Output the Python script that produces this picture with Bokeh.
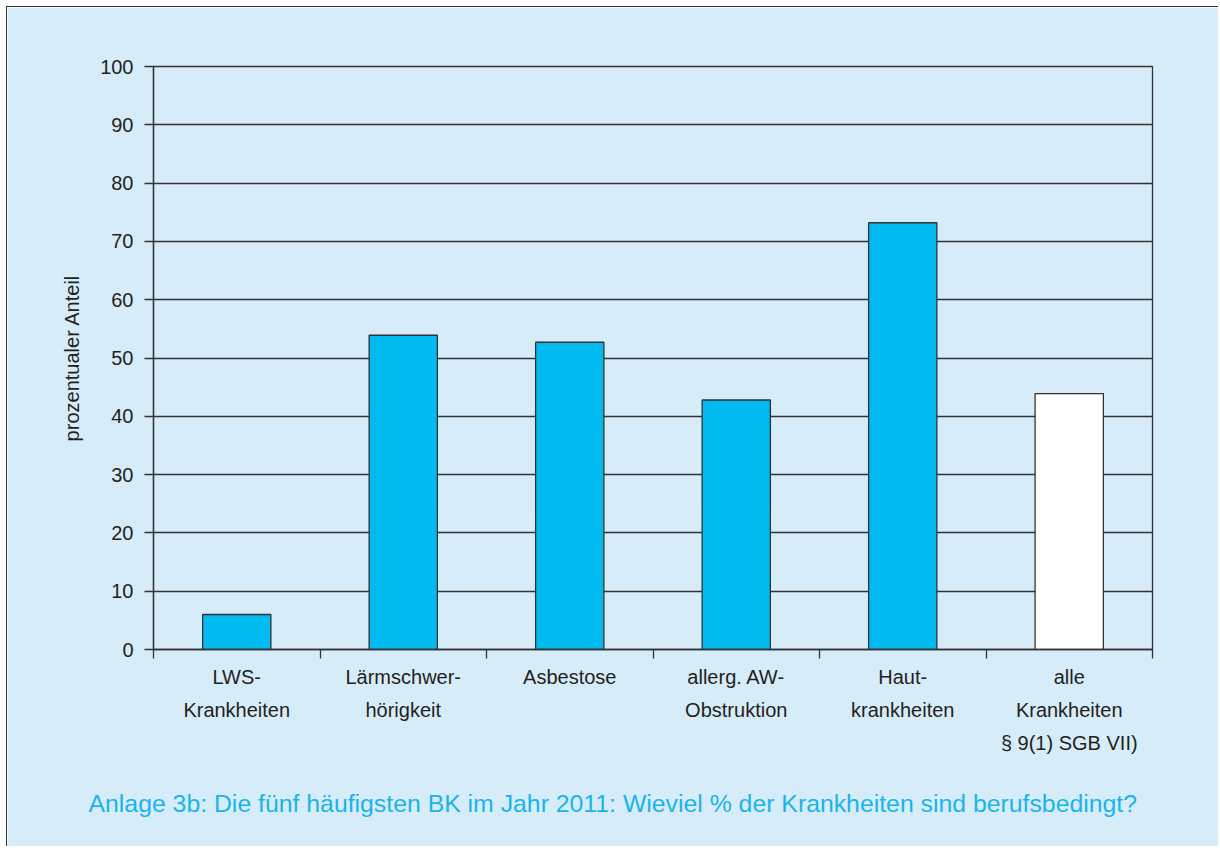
from bokeh.plotting import figure
from bokeh.models import Range1d, FixedTicker, Title
from bokeh.embed import file_html
from bokeh.resources import INLINE

categories = ["LWS-\nKrankheiten", "Lärmschwer-\nhörigkeit", "Asbestose",
              "allerg. AW-\nObstruktion", "Haut-\nkrankheiten",
              "alle\nKrankheiten\n§ 9(1) SGB VII)"]
values = [6.0, 53.9, 52.7, 42.8, 73.2, 43.9]
bar_colors = ["#00baf0", "#00baf0", "#00baf0", "#00baf0", "#00baf0", "#ffffff"]
y_ticks = [0, 10, 20, 30, 40, 50, 60, 70, 80, 90, 100]
title_text = "Anlage 3b: Die fünf häufigsten BK im Jahr 2011: Wieviel % der Krankheiten sind berufsbedingt?"
y_label = "prozentualer Anteil"

BG = "#d6edf9"
DARK = "#333333"
TXT = "#231f20"

x_pos = [i + 0.5 for i in range(len(categories))]
bounds = list(range(len(categories) + 1))

p = figure(width=1212, height=840, output_backend="svg", toolbar_location=None,
           x_range=Range1d(0, len(categories)), y_range=Range1d(0, 100),
           min_border_left=146, min_border_right=67, min_border_top=59,
           min_border_bottom=198,
           styles={"margin-left": "6px", "margin-top": "6px",
                   "border-left": "1.5px solid #333333",
                   "border-top": "1.5px solid #333333"})
p.background_fill_color = BG
p.border_fill_color = BG
p.outline_line_color = DARK
p.outline_line_width = 1.3

p.vbar(x=x_pos, top=values, width=0.41, bottom=0, fill_color=bar_colors,
       line_color=DARK, line_width=1.3)

# grid
p.xgrid.visible = False
p.ygrid.ticker = FixedTicker(ticks=y_ticks)
p.ygrid.grid_line_color = DARK
p.ygrid.grid_line_width = 1.3

# y axis
ya = p.yaxis[0]
ya.ticker = FixedTicker(ticks=y_ticks)
ya.axis_line_color = DARK
ya.axis_line_width = 1.3
ya.major_tick_line_color = DARK
ya.major_tick_line_width = 1.3
ya.major_tick_in = 0
ya.major_tick_out = 9
ya.minor_tick_line_color = None
ya.major_label_text_font = "Liberation Sans"
ya.major_label_text_font_size = "20px"
ya.major_label_text_color = TXT
ya.major_label_standoff = 11
ya.axis_label = y_label
ya.axis_label_text_font = "Liberation Sans"
ya.axis_label_text_font_size = "20px"
ya.axis_label_text_font_style = "normal"
ya.axis_label_text_color = TXT
ya.axis_label_standoff = 14

# x axis
xa = p.xaxis[0]
xa.ticker = FixedTicker(ticks=x_pos, minor_ticks=bounds)
xa.major_label_overrides = {x: c for x, c in zip(x_pos, categories)}
xa.axis_line_color = DARK
xa.axis_line_width = 1.3
xa.major_tick_line_color = None
xa.major_tick_in = 0
xa.major_tick_out = 9
xa.minor_tick_line_color = DARK
xa.minor_tick_line_width = 1.3
xa.minor_tick_in = 0
xa.minor_tick_out = 9
xa.major_label_text_font = "Liberation Sans"
xa.major_label_text_font_size = "20px"
xa.major_label_text_color = TXT
xa.major_label_text_line_height = 1.5
xa.major_label_standoff = 7

title = Title(text=title_text, align="left", offset=88 - 153, standoff=62,
              text_font="Liberation Sans", text_font_size="24.8px",
              text_font_style="normal", text_color="#1ab4ea")
p.add_layout(title, "below")

open("out.html", "w").write(file_html(p, INLINE))
